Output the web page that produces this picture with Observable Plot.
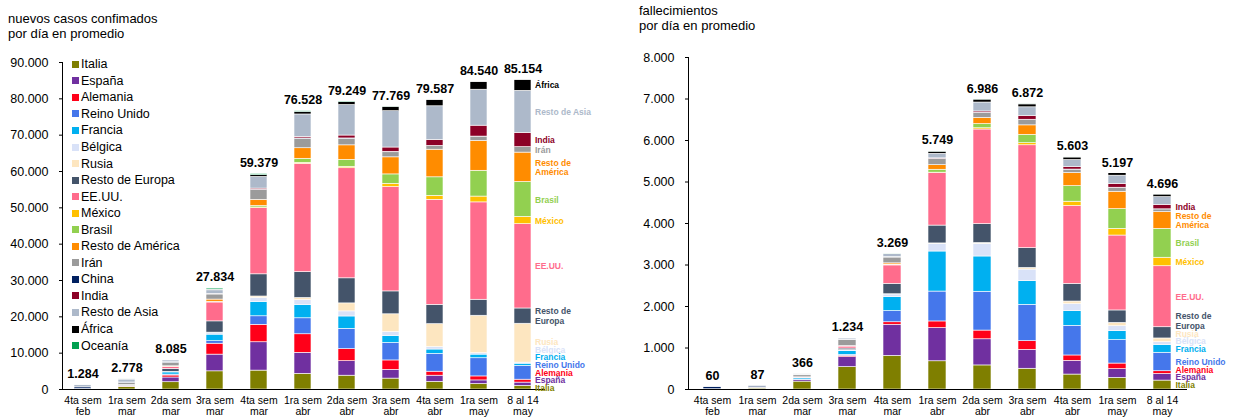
<!DOCTYPE html>
<html><head><meta charset="utf-8">
<script src="https://cdn.jsdelivr.net/npm/d3@7"></script>
<script src="https://cdn.jsdelivr.net/npm/@observablehq/plot@0.6"></script>
<style>
body{margin:0;background:#fff;font-family:"Liberation Sans",Arial,sans-serif;}
#wrap{position:relative;width:1243px;height:419px;overflow:hidden;background:#fff;}
.chart{position:absolute;top:0;}
.title{position:absolute;font-size:13px;line-height:15px;color:#000;white-space:nowrap;}
.legend{position:absolute;left:72px;top:56px;font-size:12.5px;color:#000;}
.legend div{height:16.55px;display:flex;align-items:center;white-space:nowrap;}
.legend span.sw{width:7px;height:7px;margin-right:2px;display:inline-block;}
</style></head><body><div id="wrap"></div>
<script>
const weeks = ["4ta sem\nfeb","1ra sem\nmar","2da sem\nmar","3ra sem\nmar","4ta sem\nmar","1ra sem\nabr","2da sem\nabr","3ra sem\nabr","4ta sem\nabr","1ra sem\nmay","8 al 14\nmay"];
const series = ["Italia","España","Alemania","Reino Unido","Francia","Bélgica","Rusia","Resto de Europa","EE.UU.","México","Brasil","Resto de América","Irán","China","India","Resto de Asia","África","Oceanía"];
const colors = ["#7f7f00","#7030a0","#ff0019","#4577eb","#00b0f0","#d9e2f8","#fde6c0","#44546a","#ff6c8c","#ffc000","#92d050","#ff8c00","#9b9b9b","#002060","#8c0026","#adb9ca","#000000","#00a050"];

// nuevos casos confirmados, promedio diario
const casosItalia        = [40, 650, 2000, 5000, 5200, 4300, 3800, 3000, 2100, 1500, 1000];
const casosEspana        = [5, 100, 1300, 4600, 7800, 5800, 4000, 2400, 1700, 1000, 900];
const casosAlemania      = [5, 80, 550, 3000, 4800, 5100, 3300, 2600, 1100, 1100, 800];
const casosReinoUnido    = [5, 30, 250, 700, 2350, 4400, 5600, 4800, 4900, 5000, 3800];
const casosFrancia       = [5, 120, 600, 1800, 3950, 3600, 3400, 1900, 1200, 1000, 600];
const casosBelgica       = [0, 10, 150, 500, 1100, 1400, 1400, 1100, 700, 400, 300];
const casosRusia         = [0, 2, 10, 50, 400, 600, 2200, 4900, 6300, 10300, 10700];
const casosRestoEuropa   = [10, 150, 800, 3100, 6100, 7100, 6900, 6300, 5300, 4400, 4200];
const casosEEUU          = [5, 60, 600, 5200, 18200, 29800, 30300, 28700, 28900, 26800, 23200];
const casosMexico        = [0, 0, 5, 100, 200, 300, 400, 900, 1100, 1600, 2000];
const casosBrasil        = [0, 2, 20, 100, 400, 1100, 1900, 2600, 5100, 7100, 9600];
const casosRestoAmerica  = [1, 20, 100, 600, 1700, 2900, 4000, 4700, 7600, 8200, 8100];
const casosIran          = [60, 550, 1000, 1400, 2700, 2600, 1800, 1400, 1000, 1200, 1500];
const casosChina         = [450, 150, 100, 100, 100, 100, 100, 100, 50, 10, 10];
const casosIndia         = [0, 5, 20, 50, 300, 400, 800, 1200, 1600, 3000, 3900];
const casosRestoAsia     = [690, 830, 520, 1000, 3200, 6200, 8400, 10000, 9300, 9900, 11600];
const casosAfrica        = [1, 5, 20, 200, 500, 700, 800, 1200, 1700, 2100, 3000];
const casosOceania       = [2, 10, 40, 300, 300, 200, 150, 50, 20, 5, 5];
const casosTotales       = [1284, 2778, 8085, 27834, 59379, 76528, 79249, 77769, 79587, 84540, 85154];
const casosTicks         = [0, 10000, 20000, 30000, 40000, 50000, 60000, 70000, 80000, 90000];

// fallecimientos, promedio diario
const muertesItalia       = [2, 25, 190, 540, 810, 680, 580, 500, 360, 280, 215];
const muertesEspana       = [0, 3, 35, 240, 750, 800, 630, 455, 330, 210, 160];
const muertesAlemania     = [0, 0, 5, 30, 60, 160, 210, 210, 130, 135, 65];
const muertesReinoUnido   = [0, 0, 10, 25, 270, 720, 935, 875, 715, 565, 445];
const muertesFrancia      = [0, 2, 30, 90, 335, 965, 850, 570, 355, 215, 185];
const muertesBelgica      = [0, 0, 2, 20, 65, 185, 305, 280, 165, 120, 70];
const muertesRusia        = [0, 0, 0, 2, 5, 10, 20, 40, 65, 80, 90];
const muertesRestoEuropa  = [0, 2, 10, 40, 250, 430, 455, 475, 425, 300, 270];
const muertesEEUU         = [0, 2, 10, 50, 445, 1265, 2280, 2480, 1875, 1805, 1470];
const muertesMexico       = [0, 0, 0, 1, 5, 10, 30, 50, 105, 160, 205];
const muertesBrasil       = [0, 0, 0, 2, 15, 70, 100, 200, 375, 475, 695];
const muertesRestoAmerica = [0, 0, 1, 5, 30, 110, 150, 230, 315, 420, 405];
const muertesIran         = [5, 20, 50, 150, 140, 150, 120, 130, 80, 95, 65];
const muertesChina        = [50, 30, 10, 5, 5, 5, 5, 5, 5, 2, 2];
const muertesIndia        = [0, 0, 0, 1, 5, 10, 30, 90, 60, 90, 105];
const muertesRestoAsia    = [3, 5, 10, 30, 70, 110, 215, 210, 170, 200, 190];
const muertesAfrica       = [0, 0, 1, 5, 15, 50, 70, 70, 60, 60, 60];
const muertesOceania      = [0, 0, 0, 1, 2, 3, 3, 2, 1, 1, 1];
const muertesTotales      = [60, 87, 366, 1234, 3269, 5749, 6986, 6872, 5603, 5197, 4696];
const muertesTicks        = [0, 1000, 2000, 3000, 4000, 5000, 6000, 7000, 8000];

const casosLabels   = ["Italia","España","Alemania","Reino Unido","Francia","Bélgica","Rusia","Resto de Europa","EE.UU.","México","Brasil","Resto de América","Irán","India","Resto de Asia","África"];
const muertesLabels = ["Italia","España","Alemania","Reino Unido","Francia","Bélgica","Rusia","Resto de Europa","EE.UU.","México","Brasil","Resto de América","India"];
const labelText = {"Resto de Europa":"Resto de\nEuropa","Resto de América":"Resto de\nAmérica"};

const casosSeries = [casosItalia,casosEspana,casosAlemania,casosReinoUnido,casosFrancia,casosBelgica,casosRusia,casosRestoEuropa,casosEEUU,casosMexico,casosBrasil,casosRestoAmerica,casosIran,casosChina,casosIndia,casosRestoAsia,casosAfrica,casosOceania];
const muertesSeries = [muertesItalia,muertesEspana,muertesAlemania,muertesReinoUnido,muertesFrancia,muertesBelgica,muertesRusia,muertesRestoEuropa,muertesEEUU,muertesMexico,muertesBrasil,muertesRestoAmerica,muertesIran,muertesChina,muertesIndia,muertesRestoAsia,muertesAfrica,muertesOceania];

const fmt = d3.formatLocale({decimal:",", thousands:".", grouping:[3], currency:["",""]}).format(",.0f");
const FONT = '"Liberation Sans", Arial, sans-serif';
const H = 419, MB = 30;

function toRows(arrs) {
  const rows = [];
  arrs.forEach((vals, i) => vals.forEach((v, j) => rows.push({serie: series[i], semana: weeks[j], valor: v})));
  return rows;
}

function sideLabels(arrs, labels, yMax, marginTop) {
  const last = weeks.length - 1;
  const k = yMax / (H - marginTop - MB);
  let cum = 0; const mids = {};
  arrs.forEach((vals, i) => { mids[series[i]] = cum + vals[last] / 2; cum += vals[last]; });
  const out = []; let prevY = null, prevH = 0;
  for (const s of labels) {
    const text = labelText[s] || s;
    const h = text.includes("\n") ? 18 : 7.6;
    let y = mids[s];
    if (prevY !== null) y = Math.max(y, prevY + (prevH + h) / 2 * k);
    out.push({serie: s, text, y, semana: weeks[last]});
    prevY = y; prevH = h;
  }
  return out;
}

function chart({arrs, totals, ticks, yMax, width, marginLeft, marginRight, marginTop, labels, dxLab}) {
  const rows = toRows(arrs);
  const tot = totals.map((t, j) => ({semana: weeks[j], total: t}));
  return Plot.plot({
    width, height: H, marginLeft, marginRight, marginTop, marginBottom: MB,
    style: {fontFamily: FONT, background: "transparent", color: "#000", overflow: "visible"},
    x: {domain: weeks, paddingInner: 0.61, paddingOuter: 0.26, label: null, axis: null},
    y: {domain: [0, yMax], label: null, axis: null},
    color: {domain: series, range: colors},
    marks: [
      Plot.barY(rows, {x: "semana", y: "valor", fill: "serie", order: series, stroke: "white", strokeWidth: 0.6}),
      Plot.axisY({ticks, tickFormat: fmt, tickSize: 3, tickPadding: 11, fontSize: 12.5, label: null}),
      Plot.axisX({tickSize: 0, tickPadding: 7, fontSize: 10.5, label: null, lineHeight: 1.02}),
      Plot.frame({anchor: "left"}),
      Plot.frame({anchor: "bottom"}),
      Plot.text(tot, {x: "semana", y: "total", text: d => fmt(d.total), dy: -11, fontWeight: "bold", fontSize: 12.5}),
      Plot.text(sideLabels(arrs, labels, yMax, marginTop), {x: "semana", y: "y", text: "text", fill: "serie", textAnchor: "start", dx: dxLab, fontWeight: "bold", fontSize: 8.5, lineHeight: 1.15})
    ]
  });
}

const wrap = document.getElementById("wrap");

const left = chart({arrs: casosSeries, totals: casosTotales, ticks: casosTicks, yMax: 90000, width: 620, marginLeft: 62, marginRight: 76, marginTop: 62, labels: casosLabels, dxLab: 12});
left.classList.add("chart"); left.style.left = "0px";
wrap.appendChild(left);

const right = chart({arrs: muertesSeries, totals: muertesTotales, ticks: muertesTicks, yMax: 8000, width: 623, marginLeft: 68, marginRight: 57, marginTop: 57, labels: muertesLabels, dxLab: 13});
right.classList.add("chart"); right.style.left = "620px";
wrap.appendChild(right);

const t1 = document.createElement("div"); t1.className = "title";
t1.style.left = "8px"; t1.style.top = "11px";
t1.innerHTML = "nuevos casos confimados<br>por día en promedio";
wrap.appendChild(t1);
const t2 = document.createElement("div"); t2.className = "title";
t2.style.left = "639px"; t2.style.top = "3px";
t2.innerHTML = "fallecimientos<br>por día en promedio";
wrap.appendChild(t2);

const lg = document.createElement("div"); lg.className = "legend";
series.forEach((s, i) => {
  const row = document.createElement("div");
  const sw = document.createElement("span"); sw.className = "sw"; sw.style.background = colors[i];
  row.appendChild(sw); row.appendChild(document.createTextNode(s));
  lg.appendChild(row);
});
wrap.appendChild(lg);
</script></body></html>
